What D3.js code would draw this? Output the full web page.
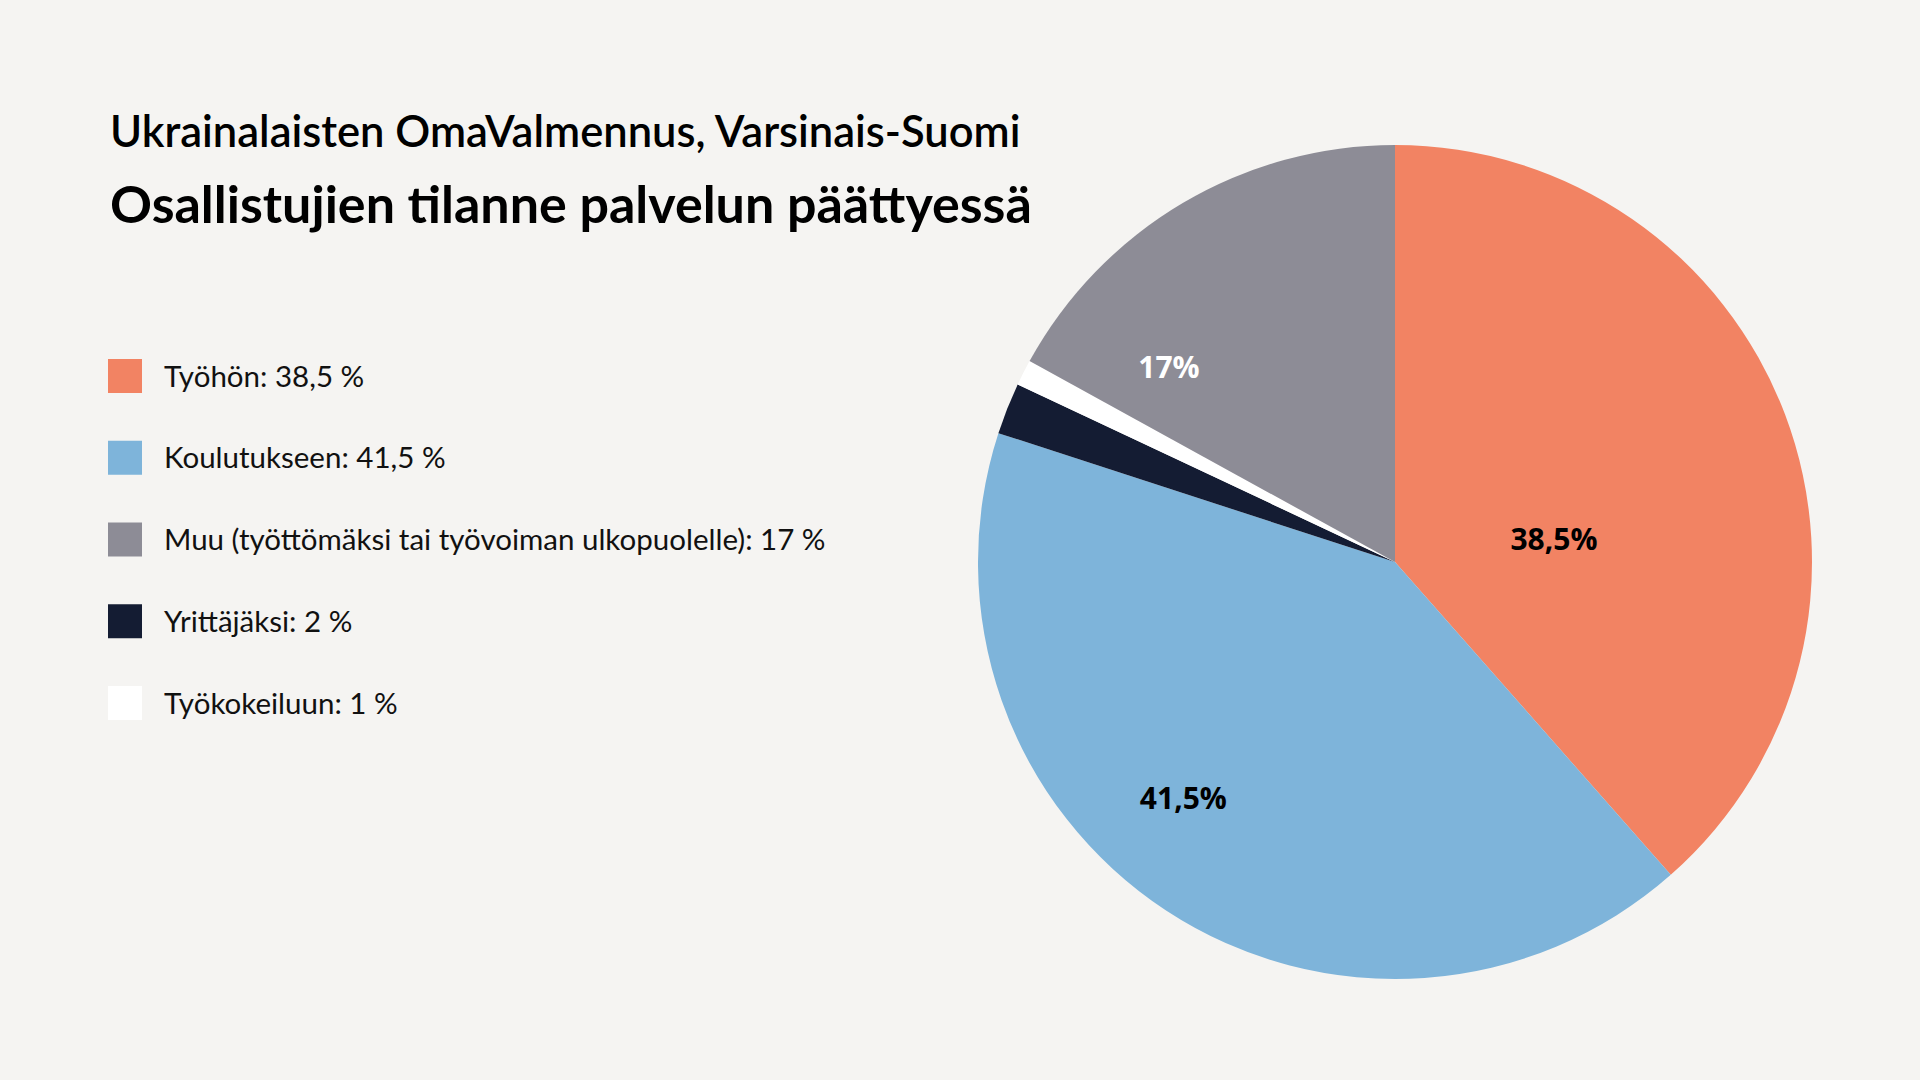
<!DOCTYPE html>
<html lang="fi">
<head>
<meta charset="utf-8">
<script src="https://cdn.jsdelivr.net/npm/d3@7"></script>
<style>
  html, body { margin: 0; padding: 0; background: #f5f4f2; }
  svg { display: block; }
</style>
</head>
<body>
<div id="chart"></div>
<script>
// ---- data ----
const titleLine1 = "Ukrainalaisten OmaValmennus, Varsinais-Suomi";
const titleLine2 = "Osallistujien tilanne palvelun päättyessä";

// legend order
const categories = [
  "Työhön",
  "Koulutukseen",
  "Muu (työttömäksi tai työvoiman ulkopuolelle)",
  "Yrittäjäksi",
  "Työkokeiluun"
];
const values = [38.5, 41.5, 17, 2, 1];
const legendValueLabels = ["38,5 %", "41,5 %", "17 %", "2 %", "1 %"];
const sliceLabels = ["38,5%", "41,5%", "17%", "", ""];
const colors = ["#f28363", "#7eb4da", "#8d8c96", "#141c33", "#ffffff"];
const labelColors = ["#000000", "#000000", "#ffffff", "#000000", "#000000"];
// order of slices around the pie (clockwise from 12 o'clock)
const pieOrder = [0, 1, 3, 4, 2];

// ---- layout ----
const W = 1920, H = 1080;
const cx = 1395, cy = 562, R = 417;
// label placement (angle offset from slice middle in degrees, radius fraction)
const labelPlacement = {
  0: { dAngle: 12.7, rFrac: 0.385 },
  1: { dAngle: 8.6, rFrac: 0.76 },
  2: { dAngle: -18.7, rFrac: 0.715 }
};

const svg = d3.select("#chart").append("svg")
  .attr("width", W).attr("height", H)
  .attr("viewBox", `0 0 ${W} ${H}`);

svg.append("rect").attr("width", W).attr("height", H).attr("fill", "#f5f4f2");

// titles
svg.append("text")
  .attr("x", 110).attr("y", 147)
  .attr("font-family", "Lato, sans-serif")
  .attr("font-weight", 600)
  .attr("font-size", 43.5)
  .attr("fill", "#000")
  .text(titleLine1);

svg.append("text")
  .attr("x", 110).attr("y", 223)
  .attr("font-family", "Lato, sans-serif")
  .attr("font-weight", 700)
  .attr("font-size", 52)
  .attr("fill", "#000")
  .text(titleLine2);

// legend
const legendY = d3.scalePoint()
  .domain(d3.range(categories.length))
  .range([376, 703]);

const legend = svg.append("g").attr("class", "legend");
const items = legend.selectAll("g").data(categories.map((c, i) => ({ c, i })))
  .join("g")
  .attr("transform", d => `translate(108,${legendY(d.i)})`);

items.append("rect")
  .attr("x", 0).attr("y", -17)
  .attr("width", 34).attr("height", 34)
  .attr("fill", d => colors[d.i]);

items.append("text")
  .attr("x", 56).attr("y", 0)
  .attr("dy", "0.36em")
  .attr("font-family", "Lato, sans-serif")
  .attr("font-size", 29.5)
  .attr("fill", "#111")
  .text(d => `${d.c}: ${legendValueLabels[d.i]}`);

// pie
const pieData = pieOrder.map(i => ({ i, value: values[i] }));
const pie = d3.pie().sort(null).value(d => d.value);
const arcs = pie(pieData);
const arc = d3.arc().innerRadius(0).outerRadius(R);

const g = svg.append("g").attr("transform", `translate(${cx},${cy})`);
g.selectAll("path").data(arcs).join("path")
  .attr("d", arc)
  .attr("fill", d => colors[d.data.i]);

// slice labels
g.selectAll("text.slice").data(arcs.filter(d => sliceLabels[d.data.i]))
  .join("text")
  .attr("class", "slice")
  .attr("transform", d => {
    const p = labelPlacement[d.data.i];
    const a = (d.startAngle + d.endAngle) / 2 + p.dAngle * Math.PI / 180;
    const r = R * p.rFrac;
    return `translate(${r * Math.sin(a)},${-r * Math.cos(a)})`;
  })
  .attr("text-anchor", "middle")
  .attr("dy", "0.36em")
  .attr("font-family", "'Open Sans', sans-serif")
  .attr("font-weight", 700)
  .attr("font-size", 30)
  .attr("fill", d => labelColors[d.data.i])
  .text(d => sliceLabels[d.data.i]);
</script>
</body>
</html>
